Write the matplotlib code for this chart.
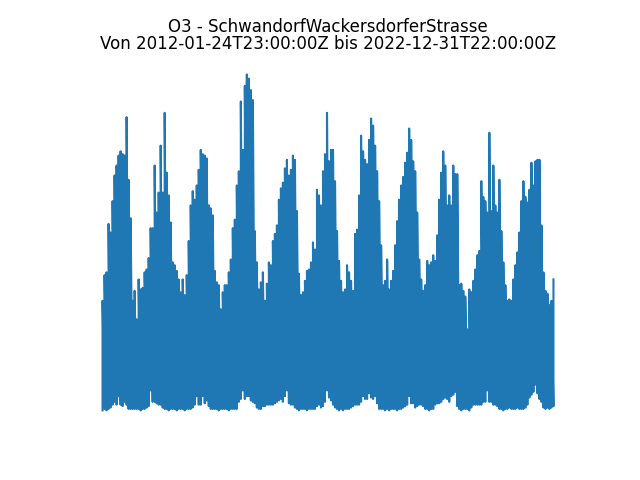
import numpy as np
import pandas as pd
import matplotlib
matplotlib.use("Agg")
import matplotlib.pyplot as plt

station = "SchwandorfWackersdorferStrasse"
pollutant = "O3"
start = "2012-01-24T23:00:00Z"
end = "2022-12-31T22:00:00Z"

# upper envelope of the hourly O3 values (ug/m3)
o3_high = [
    77, 95, 97, 131, 125, 147, 165, 172, 179, 182,
    180, 179, 206, 162, 135, 77, 84, 64, 92, 85,
    86, 97, 99, 107, 128, 128, 172, 139, 153, 186,
    153, 209, 167, 151, 132, 104, 102, 98, 92, 83,
    92, 81, 95, 119, 144, 154, 148, 158, 169, 183,
    180, 179, 177, 144, 142, 137, 98, 90, 88, 71,
    83, 88, 88, 97, 106, 128, 134, 158, 168, 217,
    183, 228, 236, 233, 225, 218, 126, 104, 85, 90,
    97, 77, 89, 104, 102, 119, 124, 130, 148, 156,
    160, 170, 176, 165, 169, 179, 176, 140, 96, 81,
    83, 91, 98, 99, 104, 118, 113, 155, 151, 144,
    168, 180, 209, 175, 183, 183, 161, 126, 105, 91,
    83, 85, 102, 97, 91, 84, 124, 127, 151, 193,
    182, 176, 173, 190, 205, 200, 186, 168, 147, 116,
    88, 91, 106, 85, 91, 98, 116, 133, 148, 158,
    164, 174, 181, 198, 190, 175, 168, 139, 106, 92,
    84, 88, 105, 102, 104, 109, 105, 123, 148, 167,
    182, 172, 144, 151, 144, 172, 166, 166, 88, 89,
    84, 80, 57, 85, 83, 91, 99, 109, 112, 161,
    150, 147, 139, 195, 140, 172, 144, 139, 162, 126,
    104, 88, 77, 78, 77, 92, 102, 111, 125, 147,
    161, 150, 146, 155, 174, 158, 175, 176, 176, 130,
    97, 84, 82, 74, 77, 92,
]

# lower envelope (night-time minima), higher in the summer months
o3_low = [
    0, 1, 0, 1, 2, 4, 6, 4, 10, 4,
    3, 6, 4, 1, 1, 1, 1, 1, 1, 0,
    1, 1, 2, 3, 14, 6, 6, 5, 4, 4,
    2, 1, 1, 0, 1, 1, 1, 0, 1, 1,
    1, 0, 1, 1, 1, 2, 4, 10, 4, 4,
    10, 5, 7, 3, 1, 1, 1, 1, 0, 1,
    1, 1, 1, 0, 1, 1, 1, 1, 6, 8,
    14, 8, 10, 10, 7, 6, 5, 2, 1, 1,
    3, 3, 4, 4, 4, 4, 5, 6, 7, 8,
    6, 10, 14, 5, 4, 4, 2, 1, 0, 1,
    1, 1, 0, 1, 1, 1, 1, 3, 4, 2,
    3, 6, 14, 9, 7, 4, 2, 1, 0, 1,
    0, 1, 1, 1, 2, 3, 4, 4, 4, 6,
    10, 8, 8, 12, 9, 8, 10, 5, 1, 1,
    1, 0, 1, 0, 1, 1, 1, 0, 1, 1,
    2, 3, 4, 10, 5, 5, 2, 3, 4, 4,
    3, 1, 1, 0, 1, 1, 4, 5, 5, 6,
    8, 9, 8, 6, 10, 11, 13, 3, 1, 0,
    1, 1, 1, 0, 2, 4, 4, 4, 4, 4,
    6, 6, 14, 6, 6, 4, 4, 3, 1, 1,
    0, 1, 1, 2, 1, 1, 1, 2, 1, 1,
    1, 2, 4, 9, 11, 13, 18, 12, 8, 6,
    2, 1, 2, 1, 2, 3,
]

dates = pd.date_range(start.rstrip("Z"), end.rstrip("Z"), periods=len(o3_high))

# alternate low/high per step so the line looks like the dense hourly trace
x = np.repeat(dates.values, 2)
y = np.column_stack([o3_low, o3_high]).ravel()

fig, ax = plt.subplots(figsize=(6.4, 4.8), dpi=100)
ax.plot(x, y)
ax.axis("off")
ax.set_title(f"{pollutant} - {station}\nVon {start} bis {end}", linespacing=0.95)

fig.savefig("out.png")
